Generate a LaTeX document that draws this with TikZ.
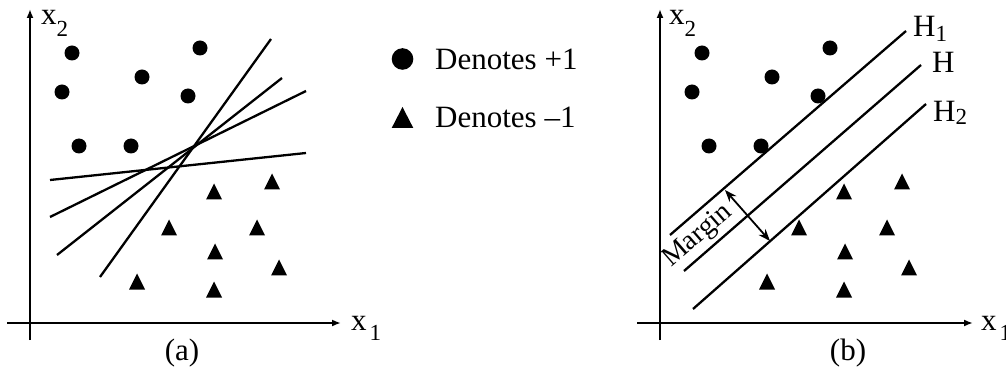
\documentclass[tikz,border=0pt]{standalone}
\usepackage{fontspec}
\setmainfont{Liberation Serif}
\usetikzlibrary{arrows.meta}
\newcommand\lowsub[2]{\raisebox{-#1pt}{\fontsize{23}{23}\selectfont #2}}
\begin{document}
\begin{tikzpicture}[x=1pt,y=-1pt,
  axis/.style={line width=1.8pt,-{Latex[length=9pt,width=7pt]}},
  sepline/.style={line width=2.3pt},
  lbl/.style={font=\fontsize{31}{33}\selectfont,inner sep=0pt},
]
\useasboundingbox (0,0) rectangle (1006,371);

% ---------- panel (a) ----------
\coordinate (ayb) at (30,340); \coordinate (ayt) at (30,9);
\coordinate (axl) at (7,323);  \coordinate (axr) at (341,323);
\draw[axis] (ayb) -- (ayt);
\draw[axis] (axl) -- (axr);
\node[lbl,anchor=base west] (ax2) at (41,25) {x\lowsub{12}{2}};
\node[lbl,anchor=base west] (ax1) at (351,330) {x\kern3pt\lowsub{10}{1}};
\node[lbl] (alab) at (182,353) {(a)};

\foreach \x/\y in {72/53,200/48,142/77,62/92,188/96,79/146,131/146}
  \fill (\x,\y) circle[radius=7.5pt];
\foreach \x/\y in {272/182,214/192,169/228,257/228,215/252,279/268,137/282,214/290}
  \fill (\x-8,\y+7.5) -- (\x+8,\y+7.5) -- (\x,\y-8.5) -- cycle;

\coordinate (l1a) at (50,180);  \coordinate (l1b) at (306,153);
\coordinate (l2a) at (50,217);  \coordinate (l2b) at (306,91);
\coordinate (l3a) at (57,255);  \coordinate (l3b) at (282,78);
\coordinate (l4a) at (100,277); \coordinate (l4b) at (271,39);
\draw[sepline] (l1a) -- (l1b);
\draw[sepline] (l2a) -- (l2b);
\draw[sepline] (l3a) -- (l3b);
\draw[sepline] (l4a) -- (l4b);

% ---------- legend ----------
\fill (402.5,59) circle[radius=10.8pt];
\fill (391.7,128) -- (413.3,128) -- (402.5,107) -- cycle;
\node[lbl,anchor=base west] (lp) at (435,70) {Denotes +1};
\node[lbl,anchor=base west] (lm) at (435,128) {Denotes –1};

% ---------- panel (b) ----------
\coordinate (byb) at (660,340); \coordinate (byt) at (660,9);
\coordinate (bxl) at (637,323); \coordinate (bxr) at (973,323);
\draw[axis] (byb) -- (byt);
\draw[axis] (bxl) -- (bxr);
\node[lbl,anchor=base west] (bx2) at (669,25) {x\lowsub{12}{2}};
\node[lbl,anchor=base west] (bx1) at (981,330) {x\kern3pt\lowsub{10}{1}};
\node[lbl] (blab) at (848,353) {(b)};

\begin{scope}[xshift=630pt]
\foreach \x/\y in {72/53,200/48,142/77,62/92,188/96,79/146,131/146}
  \fill (\x,\y) circle[radius=7.5pt];
\foreach \x/\y in {272/182,214/192,169/228,257/228,215/252,279/268,137/282,214/290}
  \fill (\x-8,\y+7.5) -- (\x+8,\y+7.5) -- (\x,\y-8.5) -- cycle;
\end{scope}

\coordinate (h1a) at (670,235); \coordinate (h1b) at (906,31);
\coordinate (h0a) at (684,271); \coordinate (h0b) at (921,65);
\coordinate (h2a) at (693,309); \coordinate (h2b) at (926,104);
\draw[sepline] (h1a) -- (h1b);
\draw[sepline] (h0a) -- (h0b);
\draw[sepline] (h2a) -- (h2b);
\node[lbl,anchor=base west] (H1) at (913,37) {H\lowsub{5}{1}};
\node[lbl,anchor=base west] (H0) at (932,73) {H};
\node[lbl,anchor=base west] (H2) at (933,122) {H\lowsub{3}{2}};

\coordinate (m1) at (725,190); \coordinate (m2) at (770,241);
\draw[line width=1.8pt,{Stealth[length=12pt,width=9pt]}-{Stealth[length=12pt,width=9pt]}] (m1) -- (m2);
\node[lbl,font=\fontsize{28}{30}\selectfont,rotate=41] (mg) at (698,236) {Margin};
\end{tikzpicture}
\end{document}
